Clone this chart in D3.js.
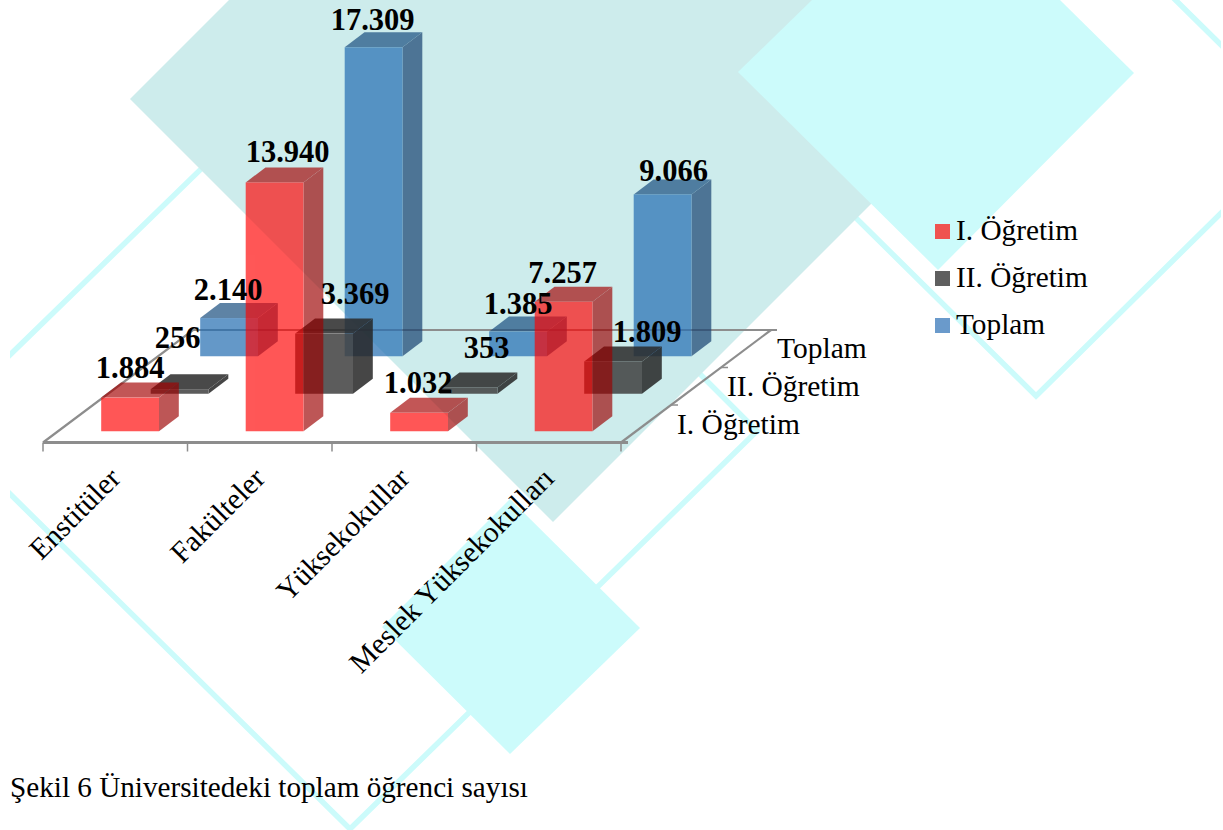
<!DOCTYPE html>
<html><head><meta charset="utf-8">
<script src="https://cdn.jsdelivr.net/npm/d3@7/dist/d3.min.js"></script>
<style>html,body{margin:0;padding:0;background:#fff}svg{display:block}text{font-family:"Liberation Serif",serif;fill:#000}</style>
</head><body><div id="chart"></div>
<script>
const categories = ["Enstitüler","Fakülteler","Yüksekokullar","Meslek Yüksekokulları"];
const seriesNames = ["I. Öğretim","II. Öğretim","Toplam"];
const valuesI = [1884,13940,1032,7257];
const valuesII = [256,3369,353,1809];
const valuesToplam = [2140,17309,1385,9066];
const seriesValues = [valuesI,valuesII,valuesToplam];
const captionText = "Şekil 6 Üniversitedeki toplam öğrenci sayısı";
// manual data-label nudges (as placed in the source chart)
const labelDx = [[0,13,-1,-1],[-2,31,18,34],[-1,-1,0,11]];
const labelDy = [[-20,-20,-20,-19],[-41,-30,-29,-19],[-18,-17,-18,-13]];
const faceStyles = [
 {front:"#ff0000",side:"#9c0000",top:"#a40000",alpha:.66,key:"#ef5350"},
 {front:"#404040",side:"#262626",top:"#2a2a2a",alpha:.85,key:"#5f5f5f"},
 {front:"#236db2",side:"#174271",top:"#1b4f80",alpha:.7,key:"#6a9acb"}];
// decorative background
const cyan="#ccfbfb", teal="#cdecec";
const outlineDiamonds=[[[350,24],[757,431],[350,829],[-61,424]],[[1036,396],[1306,129],[1040,-134],[766,129]]];
const filledBack=[[[510,499],[640,628],[510,754],[382,627]]];
const tealShape=[[130,99],[229,0],[925,0],[1000,75],[553,522]];
const cyanShape=[[738,72],[812,0],[1060,0],[1134,73],[938,270]];

const W=1223,H=830;
const svg=d3.select("#chart").append("svg").attr("width",W).attr("height",H);
const clip=svg.append("clipPath").attr("id","pg").append("rect").attr("x",10).attr("y",0).attr("width",1211).attr("height",830);
const bg=svg.append("g").attr("clip-path","url(#pg)");
const line=d3.line().curve(d3.curveLinearClosed);
bg.selectAll("path.o").data(outlineDiamonds).join("path").attr("d",line).attr("fill","none").attr("stroke",cyan).attr("stroke-width",5.5);
bg.selectAll("path.f").data(filledBack).join("path").attr("class","f").attr("d",line).attr("fill",cyan);
bg.append("path").attr("d",line(tealShape)).attr("fill",teal);
bg.append("path").attr("d",line(cyanShape)).attr("fill",cyan);

// scales
const x=d3.scaleBand().domain(categories).range([43,621]).paddingInner(.6).paddingOuter(.3);
const depth=d3.scaleBand().domain(seriesNames).range([0,112.5]).paddingInner(.6).paddingOuter(.3);
const h=d3.scaleLinear().domain([0,18000]).range([0,321.3]);
const floorY=442.5, slant=150/112.5, barSlant=1.32;
const fmt=d3.formatLocale({decimal:",",thousands:".",grouping:[3],currency:["","TL"]}).format(",");

// floor
const grey="#8d8d8d";
const fl=svg.append("g").attr("stroke",grey).attr("fill","none");
fl.append("path").attr("stroke-width",3).attr("d",d3.line()([[43,floorY],[628,floorY]]));
fl.append("path").attr("stroke-width",2.2).attr("d",d3.line()([[43,floorY],[43+112.5*slant,floorY-112.5],[777,floorY-112.5]]));
fl.append("path").attr("stroke-width",2.2).attr("d",d3.line()([[621,floorY],[621+112.5*slant,floorY-112.5]]));
const tickPos=[...categories.map(c=>x(c)-x.step()*x.paddingOuter()),621];
fl.selectAll("path.t").data(tickPos).join("path").attr("stroke-width",1.5).attr("d",v=>d3.line()([[v,floorY],[v,floorY+9]]));
[37.5,75].forEach(d=>fl.append("path").attr("stroke-width",1.5).attr("d",d3.line()([[621+d*slant,floorY-d],[628+d*slant,floorY-d]])));

// bars: back row first
const bars=svg.append("g");
[2,1,0].forEach(si=>{
  const s=seriesNames[si], st=faceStyles[si], D=depth(s), dd=depth.bandwidth();
  categories.forEach((c,ci)=>{
    const v=seriesValues[si][ci], bh=h(v), w=x.bandwidth();
    const X=x(c)+D*barSlant, Y0=floorY-D, Yt=Y0-bh, ox=dd*barSlant, oy=dd;
    const g=bars.append("g").attr("opacity",st.alpha);
    g.append("path").attr("d",line([[X+w,Y0],[X+w+ox,Y0-oy],[X+w+ox,Yt-oy],[X+w,Yt]])).attr("fill",st.side);
    g.append("path").attr("d",line([[X,Yt],[X+ox,Yt-oy],[X+w+ox,Yt-oy],[X+w,Yt]])).attr("fill",st.top);
    g.append("rect").attr("x",X).attr("y",Yt).attr("width",w).attr("height",bh).attr("fill",st.front);
  });
});
// value labels
seriesNames.forEach((s,si)=>categories.forEach((c,ci)=>{
  const v=seriesValues[si][ci], D=depth(s);
  svg.append("text").attr("x",x(c)+D*barSlant+x.bandwidth()/2+labelDx[si][ci])
    .attr("y",floorY-D-h(v)+labelDy[si][ci]).attr("text-anchor","middle")
    .attr("font-size",30.5).attr("font-weight","bold").text(fmt(v));
}));
// category labels
categories.forEach(c=>{
  const px=x(c)+x.bandwidth()/2+7;
  svg.append("text").attr("transform",`translate(${px},480) rotate(-45)`).attr("text-anchor","end").attr("font-size",29.5).text(c);
});
// depth labels
seriesNames.forEach((s,i)=>{
  svg.append("text").attr("x",677+i*50).attr("y",434-i*38).attr("font-size",29.5).text(s);
});
// legend
seriesNames.forEach((s,i)=>{
  const yy=224+i*47;
  svg.append("rect").attr("x",935).attr("y",yy).attr("width",15).attr("height",15).attr("fill",faceStyles[i].key);
  svg.append("text").attr("x",956).attr("y",yy+16).attr("font-size",29.3).text(s);
});
svg.append("text").attr("x",10).attr("y",797).attr("font-size",29.2).text(captionText);
</script></body></html>
